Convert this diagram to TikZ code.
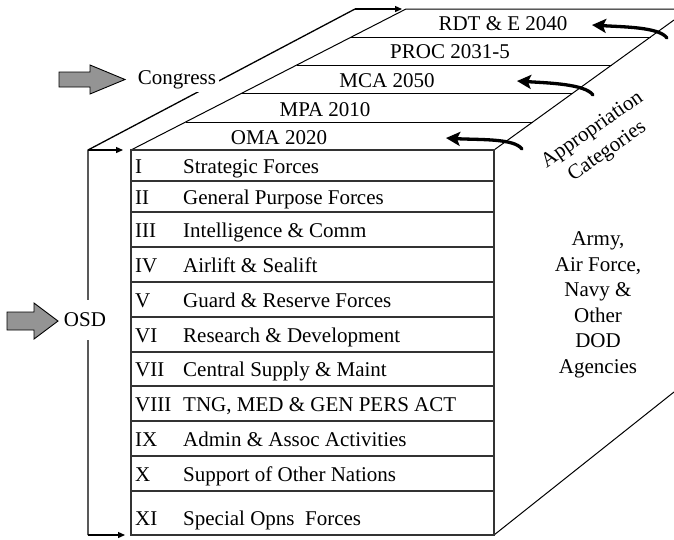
\documentclass[tikz,border=0pt]{standalone}
\usepackage{fontspec}
\setmainfont{Liberation Serif}
\usetikzlibrary{arrows.meta}
\begin{document}
\begin{tikzpicture}[x=1pt,y=-1pt,
  topline/.style={line width=1pt, draw=black},
  faceline/.style={line width=1.3pt, draw=black!80},
  blockarrow/.style={fill=black!42, draw=black, line width=0.9pt, line join=miter},
  curly/.style={line width=3.3pt, line cap=round, -{Stealth[length=14pt,width=14pt,inset=3pt]}},
  bracket/.style={line width=1.3pt, -{Triangle[length=7pt,width=6pt]}},
  lbl/.style={font=\fontsize{21}{25}\selectfont, inner sep=0pt},
  cover/.style={lbl, fill=white, inner sep=3pt},
  ]
\useasboundingbox (0,0) rectangle (674,539);

% corners of the box
\coordinate (ftl) at (131,150);
\coordinate (ftr) at (494,150);
\coordinate (fbl) at (131,535);
\coordinate (fbr) at (494,535);
\coordinate (btl) at (406,9);
\coordinate (btr) at (674,9);
\coordinate (rtop) at (674,20);
\coordinate (rbot) at (674,392);

% top face (appropriation bands)
\draw[topline] (ftl) -- (btl) -- (btr);
\draw[topline] (ftr) -- (rtop);
\draw[topline] (fbr) -- (rbot);
\coordinate (b1l) at (351.4,37);  \coordinate (b1r) at (650.5,37);
\coordinate (b2l) at (296.8,65);  \coordinate (b2r) at (611.7,65);
\coordinate (b3l) at (242.2,93);  \coordinate (b3r) at (572.9,93);
\coordinate (b4l) at (185.6,122); \coordinate (b4r) at (532.8,122);
\draw[topline] (b1l) -- (b1r);
\draw[topline] (b2l) -- (b2r);
\draw[topline] (b3l) -- (b3r);
\draw[topline] (b4l) -- (b4r);

\node[lbl, anchor=base] (rdte) at (503,30.5) {RDT \& E 2040};
\node[lbl, anchor=base] (proc) at (450,58.5) {PROC 2031-5};
\node[lbl, anchor=base] (mca)  at (387,87)   {MCA 2050};
\node[lbl, anchor=base] (mpa)  at (325,116.5) {MPA 2010};
\node[lbl, anchor=base] (oma)  at (279,144.5) {OMA 2020};

% front face (programs)
\draw[faceline] (ftl) rectangle (fbr);
\foreach \y in {181,212,247,282,317,352,386,421,456,491}
  \draw[faceline] (131,\y) -- (494,\y);

\foreach \num/\txt/\b [count=\i] in {
  I/Strategic Forces/173,
  II/General Purpose Forces/204,
  III/Intelligence \& Comm/237,
  IV/Airlift \& Sealift/272,
  V/Guard \& Reserve Forces/307,
  VI/Research \& Development/342,
  VII/Central Supply \& Maint/376.5,
  VIII/{TNG, MED \& GEN PERS ACT}/411,
  IX/Admin \& Assoc Activities/446,
  X/Support of Other Nations/481,
  XI/Special Opns\ \ Forces/525}
{
  \node[lbl, anchor=base west] (num\i) at (135,\b) {\num};
  \node[lbl, anchor=base west] (prog\i) at (183,\b) {\txt};
}

% side face text
\node[lbl, align=center, font=\fontsize{21}{25.5}\selectfont] (agencies) at (598,305)
  {Army,\\Air Force,\\Navy \&\\Other\\DOD\\Agencies};
\node[lbl, align=center, rotate=35, font=\fontsize{21}{26}\selectfont] (approp) at (600,141)
  {Appropriation\\Categories};

% curved arrows into the bands
\coordinate (t1) at (522,149); \coordinate (h1) at (446,138);
\coordinate (t2) at (593,95);  \coordinate (h2) at (517,81);
\coordinate (t3) at (667,38);  \coordinate (h3) at (592,25);
\draw[curly] (t1) .. controls +(-8,-11) and +(32,2) .. (h1);
\draw[curly] (t2) .. controls +(-8,-11) and +(32,2) .. (h2);
\draw[curly] (t3) .. controls +(-8,-11) and +(32,2) .. (h3);

% OSD / Congress brackets
\coordinate (ob) at (88,150);
\coordinate (obot) at (88,535);
\coordinate (otop) at (355,9);
\draw[line width=1.3pt] (obot) -- (ob) -- (otop);
\draw[bracket] (ob) -- (123,150);
\draw[bracket] (obot) -- (125,535);
\draw[bracket] (otop) -- (402,9);

\node[cover] (congress) at (177,80) {Congress};
\node[cover, minimum height=40pt] (osd) at (85,320) {OSD};

% block arrows
\draw[blockarrow] (59,72) -- (90,72) -- (90,65) -- (125,79.5) -- (90,94) -- (90,87) -- (59,87) -- cycle;
\draw[blockarrow] (7,312) -- (34,312) -- (34,303) -- (58,321) -- (34,339) -- (34,330) -- (7,330) -- cycle;
\end{tikzpicture}
\end{document}
